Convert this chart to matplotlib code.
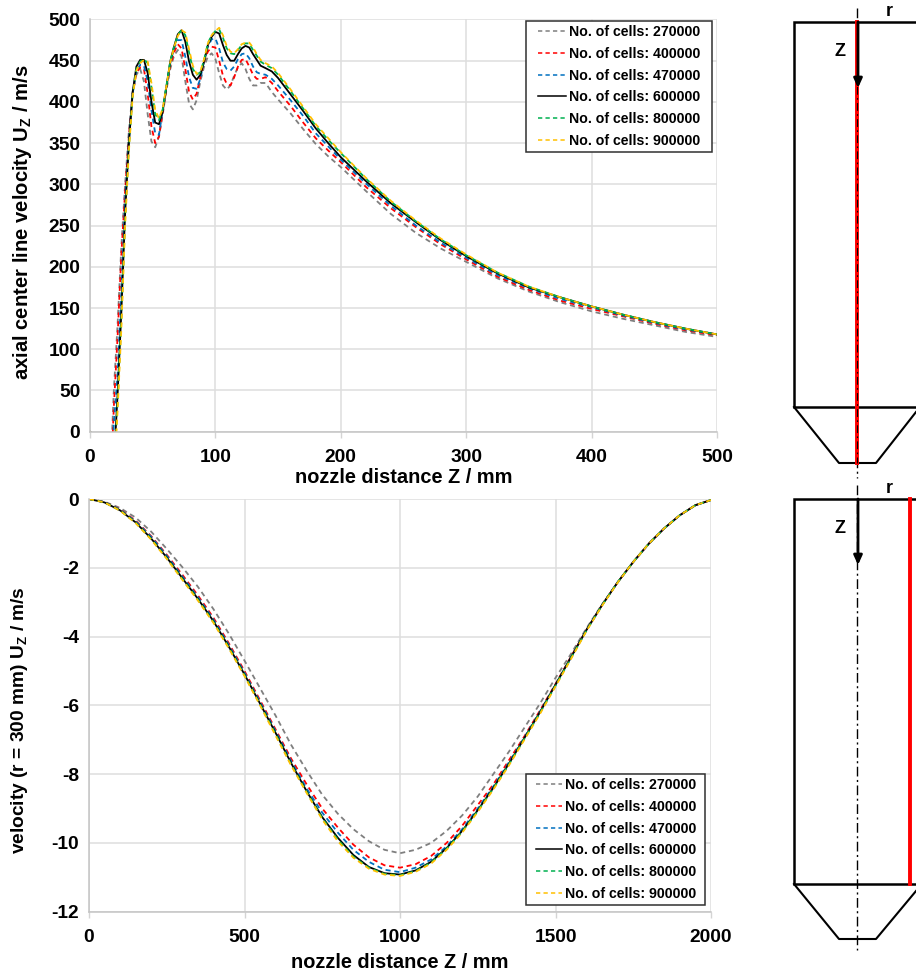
import matplotlib
matplotlib.use("Agg")
import matplotlib.pyplot as plt

plt.rcParams['font.family'] = ['Liberation Sans', 'DejaVu Sans']
plt.rcParams['font.weight'] = 'bold'
plt.rcParams['mathtext.fontset'] = 'custom'
plt.rcParams['mathtext.bf'] = 'Liberation Sans:bold'
plt.rcParams['mathtext.rm'] = 'Liberation Sans:bold'
plt.rcParams['axes.unicode_minus'] = False

labels = ['No. of cells: 270000', 'No. of cells: 400000', 'No. of cells: 470000',
          'No. of cells: 600000', 'No. of cells: 800000', 'No. of cells: 900000']
colors = ['#7f7f7f', '#ff0000', '#0070c0', '#000000', '#00b050', '#ffc000']

z_top = [0, 10, 17, 19, 22, 25, 28, 31, 34, 37, 40, 43, 46, 49, 52, 55, 58, 61, 64, 67, 70, 73, 76, 79, 82,
         85, 88, 91, 94, 97, 100, 103, 106, 109, 112, 115, 118, 121, 124, 127, 130, 133, 136, 140, 145, 150,
         160, 170, 180, 190, 200, 220, 240, 260, 280, 300, 325, 350, 375, 400, 425, 450, 475, 500]
u_270 = [0, -20, -25, 50, 130, 225, 300, 365, 412, 433, 440, 425, 385, 352, 345, 358, 385, 415, 440, 456, 463, 455,
         425, 398, 391, 402, 425, 443, 455, 459, 452, 435, 420, 415, 420, 432, 442, 447, 440, 428, 420, 420, 423,
         423, 412, 403, 386, 367, 349, 334, 321, 292, 264, 241, 222, 206, 186, 170, 157, 146, 137, 129, 121, 115]
u_400 = [0, -20, -45, 30, 115, 215, 292, 358, 410, 435, 442, 440, 410, 370, 350, 358, 388, 418, 444, 460, 470, 465,
         440, 412, 403, 410, 430, 449, 461, 467, 466, 450, 432, 422, 420, 430, 443, 451, 452, 443, 433, 428, 428,
         430, 423, 413, 395, 375, 356, 341, 327, 297, 271, 248, 227, 209, 188, 172, 159, 149, 140, 131, 123, 117]
u_470 = [0, -20, -60, 10, 70, 170, 280, 352, 410, 438, 445, 444, 425, 390, 362, 360, 390, 420, 447, 465, 475, 475,
         455, 430, 417, 416, 428, 450, 467, 476, 477, 465, 448, 440, 438, 443, 452, 458, 459, 453, 443, 436, 434,
         433, 428, 420, 402, 383, 362, 346, 330, 301, 274, 250, 229, 211, 190, 174, 161, 151, 141, 132, 124, 118]
u_600 = [0, -20, -90, -40, 45, 145, 265, 350, 412, 443, 451, 451, 435, 400, 375, 373, 389, 419, 449, 467, 482, 487,
         473, 449, 433, 427, 433, 449, 469, 479, 485, 483, 469, 457, 450, 450, 458, 465, 468, 466, 458, 451, 444,
         441, 437, 429, 409, 389, 368, 350, 333, 304, 277, 254, 232, 213, 192, 175, 163, 152, 142, 133, 125, 118]
u_800 = [0, -20, -95, -50, 35, 135, 258, 345, 408, 440, 449, 452, 447, 418, 385, 378, 391, 420, 449, 467, 481, 487,
         481, 460, 440, 433, 436, 451, 471, 481, 486, 488, 478, 465, 459, 458, 463, 469, 471, 471, 463, 456, 449,
         445, 441, 433, 413, 392, 371, 354, 338, 307, 279, 255, 233, 214, 193, 176, 163, 152, 142, 133, 125, 118]
u_900 = [0, -20, -100, -60, 25, 125, 250, 340, 406, 438, 447, 451, 449, 423, 390, 380, 392, 420, 448, 466, 480, 487,
         484, 464, 444, 434, 437, 452, 471, 481, 486, 490, 481, 468, 461, 459, 464, 470, 472, 472, 466, 458, 451,
         447, 443, 435, 415, 394, 373, 356, 339, 308, 280, 256, 234, 215, 193, 176, 163, 152, 142, 133, 125, 118]
top_series = [u_270, u_400, u_470, u_600, u_800, u_900]

z_bot = [0, 50, 100, 150, 200, 250, 300, 350, 400, 450, 500, 550, 600, 650, 700, 750, 800, 850, 900, 950, 1000,
         1050, 1100, 1150, 1200, 1250, 1300, 1350, 1400, 1450, 1500, 1550, 1600, 1650, 1700, 1750, 1800, 1850, 1900, 1950, 2000]
v_270 = [0, -0.08, -0.26, -0.54, -0.95, -1.45, -1.98, -2.55, -3.2, -3.92, -4.7, -5.5, -6.3, -7.15, -7.9, -8.6, -9.15, -9.6,
         -9.95, -10.2, -10.3, -10.2, -10.0, -9.65, -9.2, -8.65, -8.0, -7.35, -6.65, -5.95, -5.2, -4.5, -3.75, -3.06, -2.42, -1.83, -1.3, -0.85, -0.47, -0.18, -0.03]
v_400 = [0, -0.09, -0.3, -0.63, -1.08, -1.62, -2.2, -2.8, -3.45, -4.2, -5.0, -5.85, -6.7, -7.55, -8.3, -9.0, -9.55, -10.05,
         -10.42, -10.65, -10.72, -10.62, -10.38, -10.0, -9.5, -8.9, -8.3, -7.6, -6.9, -6.15, -5.38, -4.58, -3.8, -3.08, -2.42, -1.83, -1.3, -0.85, -0.47, -0.18, -0.03]
v_470 = [0, -0.09, -0.31, -0.65, -1.1, -1.65, -2.25, -2.85, -3.5, -4.25, -5.05, -5.9, -6.75, -7.62, -8.42, -9.12, -9.7, -10.2,
         -10.55, -10.78, -10.85, -10.72, -10.48, -10.1, -9.6, -9.0, -8.36, -7.66, -6.93, -6.18, -5.4, -4.6, -3.8, -3.08, -2.42, -1.83, -1.3, -0.85, -0.47, -0.18, -0.03]
v_600 = [0, -0.1, -0.33, -0.68, -1.15, -1.7, -2.3, -2.9, -3.55, -4.3, -5.1, -5.95, -6.8, -7.68, -8.5, -9.25, -9.85, -10.35,
         -10.7, -10.88, -10.92, -10.8, -10.55, -10.15, -9.65, -9.05, -8.4, -7.7, -6.95, -6.2, -5.4, -4.6, -3.8, -3.08, -2.42, -1.83, -1.3, -0.85, -0.47, -0.18, -0.03]
v_800 = [0, -0.1, -0.33, -0.69, -1.16, -1.72, -2.32, -2.92, -3.57, -4.32, -5.12, -5.97, -6.83, -7.72, -8.52, -9.28, -9.9, -10.4,
         -10.72, -10.9, -10.94, -10.82, -10.57, -10.17, -9.67, -9.07, -8.42, -7.72, -6.97, -6.22, -5.43, -4.62, -3.82, -3.09, -2.42, -1.83, -1.3, -0.85, -0.47, -0.18, -0.03]
v_900 = [0, -0.1, -0.34, -0.7, -1.18, -1.74, -2.35, -2.95, -3.6, -4.35, -5.15, -6.0, -6.88, -7.75, -8.55, -9.32, -9.95, -10.43,
         -10.75, -10.92, -10.96, -10.84, -10.6, -10.2, -9.7, -9.1, -8.45, -7.75, -7.0, -6.25, -5.45, -4.65, -3.83, -3.1, -2.43, -1.83, -1.3, -0.85, -0.47, -0.18, -0.03]
bot_series = [v_270, v_400, v_470, v_600, v_800, v_900]

W, H = 916, 972
fig = plt.figure(figsize=(W / 100, H / 100), dpi=100)


def box(l, t, r, b):
    return [l / W, 1 - b / H, (r - l) / W, (b - t) / H]


def style(ax, xticks, yticks, xlab, ylab, ylab_size, xlab_y, ylab_x, ylab_y):
    ax.set_xticks(xticks)
    ax.set_yticks(yticks)
    ax.grid(True, color='#dedede', lw=1.1)
    ax.set_axisbelow(True)
    ax.tick_params(axis='x', length=4.5, width=1.0, color='#d4d4d4', labelsize=13.8, pad=8)
    ax.tick_params(axis='y', length=0, labelsize=13.8, pad=7)
    for s in ['top', 'right']:
        ax.spines[s].set_visible(False)
    for s in ['left', 'bottom']:
        ax.spines[s].set_color('#c4c4c4')
        ax.spines[s].set_linewidth(1.1)
    ax.set_xlabel(xlab, fontsize=14.4, fontweight='bold', va='center')
    ax.xaxis.set_label_coords(0.5, xlab_y)
    ax.set_ylabel(ylab, fontsize=ylab_size, fontweight='bold', va='center')
    ax.yaxis.set_label_coords(ylab_x, ylab_y)


def curves(ax, x, series):
    for y, c, lab in zip(series, colors, labels):
        if c == '#000000':
            ax.plot(x, y, color=c, lw=1.3, label=lab)
        else:
            ax.plot(x, y, color=c, lw=1.3, dashes=(2.8, 2.1), label=lab)


ax1 = fig.add_axes(box(90, 19.5, 717, 431.7))
curves(ax1, z_top, top_series)
ax1.set_xlim(0, 500)
ax1.set_ylim(0, 500)
style(ax1, range(0, 501, 100), range(0, 501, 50), 'nozzle distance Z / mm',
      r'axial center line velocity $\mathbf{U_Z}$ / m/s', 14.6,
      -(477 - 431.7) / 412.2, -(90 - 22) / 627, 0.507)

ax2 = fig.add_axes(box(89, 499, 711, 911.7))
curves(ax2, z_bot, bot_series)
ax2.set_xlim(0, 2000)
ax2.set_ylim(-12, 0)
style(ax2, range(0, 2001, 500), range(-12, 1, 2), 'nozzle distance Z / mm',
      r'velocity (r = 300 mm) $\mathbf{U_Z}$ / m/s', 13.8,
      -(962 - 911.7) / 412.7, -(89 - 20) / 622, 0.464)

for ax, (l, t, r, b), hlen_px, start_px in ((ax1, (526, 21, 712, 152), 36, 7.5), (ax2, (526, 774, 705, 905), 32, 5.5)):
    x0, y0 = ax.transAxes.inverted().transform((l, H - b))
    x1, y1 = ax.transAxes.inverted().transform((r, H - t))
    leg = ax.legend(loc='lower left', bbox_to_anchor=(x0, y0, x1 - x0, y1 - y0), mode='expand',
                    fontsize=10.15, frameon=True, fancybox=False, framealpha=1, edgecolor='#303030',
                    borderaxespad=0, handlelength=hlen_px / 14.1, handletextpad=0.2, labelspacing=0.55, borderpad=0.3)
    leg.get_frame().set_linewidth(1.1)
    for line in leg.get_lines():
        xd = line.get_xdata()
        yd = line.get_ydata()
        line.set_data([start_px * 0.72, xd[-1]], [yd[0], yd[0]])
        line.set_linewidth(1.1)

sk = fig.add_axes([0, 0, 1, 1], zorder=-1)
sk.set_xlim(0, W)
sk.set_ylim(H, 0)
sk.axis('off')

wall_x = [916, 794, 794, 916]
cone_x = [794, 839, 876, 916]
axis_x = [857, 857]

for top, bottom, cone_b, right_y, dash_t, dash_b in ((22, 407, 463, 412, 8, 478), (499, 884, 939, 891, 485, 950)):
    sk.plot(wall_x, [top, top, bottom, bottom], color='black', lw=1.8, solid_joinstyle='miter')
    sk.plot(cone_x, [bottom, cone_b, cone_b, right_y], color='black', lw=1.5)
    sk.plot(axis_x, [dash_t, dash_b], color='black', lw=1.0, dashes=(7, 2.5, 1.5, 2.5))

sk.plot(axis_x, [22, 463], color='#ff0000', lw=2.8, zorder=3)
sk.plot(axis_x, [22, 463], color='black', lw=0.8, dashes=(7, 3, 1.5, 3), zorder=4)
sk.plot([910, 910], [499, 884], color='#ff0000', lw=2.8, zorder=3)

for top, tip in ((22, 88), (499, 565)):
    sk.annotate('', xy=(858, tip), xytext=(858, top),
                arrowprops=dict(arrowstyle='-|>,head_width=0.25,head_length=0.55', color='black', lw=2.0,
                                shrinkA=0, shrinkB=0))
    sk.text(840, top + 29, 'Z', fontsize=13, ha='center', va='center')
    sk.text(889.5, top - 11, 'r', fontsize=13, ha='center', va='center')

fig.savefig('out.png', dpi=100)
